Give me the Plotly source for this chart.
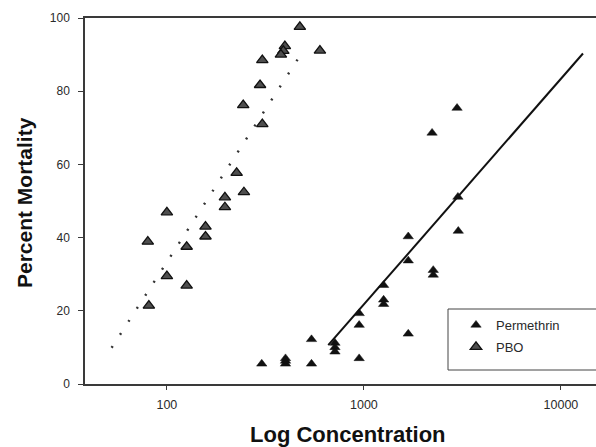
import plotly.graph_objects as go
import math

# ---- data ----
pbo_conc = [473, 598, 397, 390, 379, 305, 297, 244, 305, 226, 246, 197, 197,
            100, 157, 157, 80, 126, 100, 126, 81]
pbo_mort = [97.6, 91.1, 92.3, 91.0, 90.0, 88.5, 81.7, 76.2, 71.0, 57.7, 52.4,
            51.0, 48.3, 46.9, 43.0, 40.3, 38.9, 37.5, 29.5, 26.9, 21.4]

perm_conc = [303, 400, 400, 400, 542, 542, 713, 713, 713, 946, 946, 946,
             1259, 1259, 1259, 1679, 1679, 1679, 2249, 2249, 3013, 2218, 2970, 3000]
perm_mort = [5.5, 5.5, 6.3, 7.0, 12.2, 5.5, 11.2, 10.0, 8.8, 19.3, 16.1, 7.0,
             27.0, 23.0, 21.8, 40.3, 33.7, 13.7, 31.1, 29.8, 41.8, 68.6, 75.4, 51.1]

# fitted lines (end points)
perm_fit_conc = [659, 12940]
perm_fit_mort = [10.6, 90.3]
pbo_fit_conc = [52.4, 470]
pbo_fit_mort = [9.9, 89.4]

x_tick_vals = [100, 1000, 10000]
x_tick_text = ["100", "1000", "10000"]
y_tick_vals = [0, 20, 40, 60, 80, 100]

W, H = 596, 447
ML, MR, MT, MB = 85, 0, 18, 63
PW, PH = W - ML - MR, H - MT - MB

def px_x(p):
    return (p - ML) / PW

def px_y(p):
    return (H - MB - p) / PH

FONT = "Arial, Liberation Sans, Helvetica, sans-serif"

fig = go.Figure()

fig.add_trace(go.Scatter(
    x=pbo_fit_conc, y=pbo_fit_mort, mode="lines",
    line=dict(color="#333333", width=2.4, dash="2px,13.5px"),
    showlegend=False, hoverinfo="skip"))

fig.add_trace(go.Scatter(
    x=perm_fit_conc, y=perm_fit_mort, mode="lines",
    line=dict(color="#111111", width=2),
    showlegend=False, hoverinfo="skip"))

fig.add_trace(go.Scatter(
    x=perm_conc, y=perm_mort, mode="markers", name="Permethrin",
    marker=dict(symbol="triangle-up", size=9, color="#111111",
                line=dict(color="#111111", width=0.5)),
    legendgroup="a"))

fig.add_trace(go.Scatter(
    x=pbo_conc, y=pbo_mort, mode="markers", name="PBO",
    marker=dict(symbol="triangle-up", size=10, color="#4e4e4e",
                line=dict(color="#111111", width=1.3)),
    legendgroup="b"))

axis_line = "#3a3a3a"

fig.update_layout(
    width=W, height=H,
    margin=dict(l=ML, r=MR, t=MT, b=MB),
    paper_bgcolor="white", plot_bgcolor="white",
    font=dict(family=FONT, color="#222222"),
    showlegend=True,
    legend=dict(x=px_x(456), y=px_y(310), xanchor="left", yanchor="top",
                bgcolor="rgba(0,0,0,0)", borderwidth=0,
                font=dict(size=13, color="#2a2a2a", family=FONT),
                traceorder="grouped", tracegroupgap=2),
    xaxis=dict(type="log", range=[math.log10(38.4), 4.178],
               tickvals=x_tick_vals, ticktext=x_tick_text,
               ticks="outside", ticklen=4, tickwidth=1, tickcolor=axis_line,
               showline=True, linecolor=axis_line, linewidth=1.5, mirror=True,
               showgrid=False, zeroline=False,
               tickfont=dict(size=12.5, color="#2a2a2a"),
               ticklabelstandoff=4),
    yaxis=dict(range=[0, 100], tickvals=y_tick_vals,
               ticks="outside", ticklen=5, tickwidth=1, tickcolor=axis_line,
               showline=True, linecolor=axis_line, linewidth=1.5, mirror=False,
               showgrid=False, zeroline=False,
               tickfont=dict(size=12, color="#2a2a2a"),
               ticklabelstandoff=6),
    shapes=[dict(type="rect", xref="paper", yref="paper",
                 x0=px_x(448), x1=px_x(605), y0=px_y(370), y1=px_y(309),
                 line=dict(color="#444444", width=1), fillcolor="rgba(0,0,0,0)")],
    annotations=[
        dict(text="<b>Percent Mortality</b>", xref="paper", yref="paper",
             x=px_x(24), y=px_y(203), xanchor="center", yanchor="middle",
             textangle=-90, showarrow=False,
             font=dict(size=21, color="#111111", family=FONT)),
        dict(text="<b>Log Concentration</b>", xref="paper", yref="paper",
             x=px_x(347.5), y=px_y(434), xanchor="center", yanchor="middle",
             showarrow=False,
             font=dict(size=22, color="#111111", family=FONT)),
    ],
)

fig.write_html("out.html")
